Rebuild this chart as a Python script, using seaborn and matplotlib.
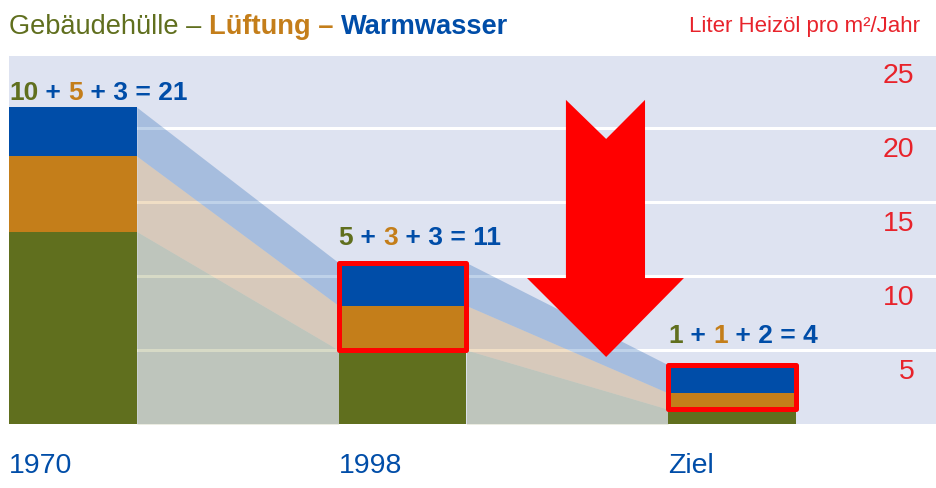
import numpy as np
import pandas as pd
import seaborn as sns
import matplotlib.pyplot as plt
from matplotlib.offsetbox import TextArea, HPacker, AnnotationBbox
from matplotlib.patches import Rectangle, Polygon
from matplotlib.transforms import ScaledTranslation

# values (liter oil per m2 and year)
categories = ["1970", "1998", "Ziel"]
huelle = [13.0, 5.0, 1.0]
lueftung = [5.1, 3.0, 1.1]
warmwasser = [3.3, 2.9, 1.9]

# numbers printed above the bars
label_huelle = ["10", "5", "1"]
label_lueftung = ["5", "3", "1"]
label_warm = ["3", "3", "2"]
label_total = ["21", "11", "4"]

y_ticks = [5, 10, 15, 20, 25]

GREEN = "#606F1E"
ORANGE = "#C47E1A"
BLUE = "#004DA8"
RED = "#FF0000"
TEXT_RED = "#E8232B"

df = pd.DataFrame({"Jahr": categories, "huelle": huelle,
                   "lueftung": lueftung, "warmwasser": warmwasser})
df["bis_lueftung"] = df["huelle"] + df["lueftung"]
df["gesamt"] = df["bis_lueftung"] + df["warmwasser"]

sns.set_style("white")
plt.rcParams["font.family"] = ["Liberation Sans", "DejaVu Sans"]

fig = plt.figure(figsize=(9.37, 4.88), dpi=100)
ax = fig.add_axes([9 / 937, 64 / 488, 928 / 937, 370 / 488])
ax.set_facecolor("#DEE3F1")

bar_w = 0.388
pos = np.arange(len(categories))

# translucent bands joining the bars
layers = [
    (np.zeros(len(df)), df["huelle"].values, GREEN),
    (df["huelle"].values, df["bis_lueftung"].values, ORANGE),
    (df["bis_lueftung"].values, df["gesamt"].values, BLUE),
]
for i in range(len(pos) - 1):
    xs = [pos[i] + bar_w / 2, pos[i + 1] - bar_w / 2]
    for lo, hi, col in layers:
        ax.fill_between(xs, lo[i:i + 2], hi[i:i + 2], color=col,
                        alpha=0.25, lw=0, zorder=1)

# stacked bars, drawn as overlapping cumulative bars
for col, c in [("gesamt", BLUE), ("bis_lueftung", ORANGE), ("huelle", GREEN)]:
    sns.barplot(data=df, x="Jahr", y=col, color=c, width=bar_w,
                saturation=1, errorbar=None, linewidth=0, zorder=2, ax=ax)

# red frames around ventilation + hot water for 1998 and target
for i in [1, 2]:
    ax.add_patch(Rectangle((pos[i] - bar_w / 2, df["huelle"][i]), bar_w,
                           df["lueftung"][i] + df["warmwasser"][i],
                           fill=False, ec=RED, lw=3.6, joinstyle="round",
                           zorder=3))

# big red arrow pointing down
arrow_x = [1.496, 1.618, 1.736, 1.736, 1.854, 1.618, 1.378, 1.496]
arrow_y = [21.9, 19.26, 21.9, 9.86, 9.86, 4.53, 9.86, 9.86]
ax.add_patch(Polygon(np.column_stack([arrow_x, arrow_y]), closed=True,
                     fc=RED, ec="none", zorder=4))

ax.set_xlim(-bar_w / 2, 2.622)
ax.set_ylim(0, 25)
ax.set_xlabel("")
ax.set_ylabel("")
for s in ax.spines.values():
    s.set_visible(False)

ax.set_yticks(y_ticks)
ax.set_yticklabels([])
ax.yaxis.grid(True, color="white", lw=2.2)
ax.xaxis.grid(False)
ax.set_axisbelow(True)
ax.tick_params(axis="both", length=0)

off = ScaledTranslation(0, -0.22, fig.dpi_scale_trans)
for v in y_ticks:
    ax.text(0.976, v, str(v), transform=ax.get_yaxis_transform() + off,
            ha="right", va="center", fontsize=20.5, color=TEXT_RED)

ax.set_xticks(pos - bar_w / 2, labels=categories)
ax.tick_params(axis="x", pad=21, labelsize=20.5, labelcolor=BLUE)
for lbl in ax.get_xticklabels():
    lbl.set_ha("left")

# coloured sums above the bars
label_lift = [2, 9, 12]
for i in range(len(pos)):
    parts = [(label_huelle[i], GREEN), (" + ", BLUE),
             (label_lueftung[i], ORANGE),
             (" + " + label_warm[i] + " = " + label_total[i], BLUE)]
    box = HPacker(children=[TextArea(t, textprops=dict(color=c, fontsize=19,
                                                       fontweight="bold"))
                            for t, c in parts],
                  align="baseline", pad=0, sep=0)
    ab = AnnotationBbox(box, (pos[i] - bar_w / 2, df["gesamt"][i]),
                        xybox=(0, label_lift[i]), boxcoords="offset points",
                        box_alignment=(0, 0), frameon=False, pad=0, zorder=5)
    ax.add_artist(ab)

# title in three colours
title_parts = [("Gebäudehülle – ", GREEN, "normal"),
               ("Lüftung – ", ORANGE, "bold"),
               ("Warmwasser", BLUE, "bold")]
tbox = HPacker(children=[TextArea(t, textprops=dict(color=c, fontsize=19.6,
                                                    fontweight=w))
                         for t, c, w in title_parts],
               align="baseline", pad=0, sep=0)
tab = AnnotationBbox(tbox, (9 / 937, 1 - 40 / 488), xycoords="figure fraction",
                     box_alignment=(0, 0), frameon=False, pad=0,
                     annotation_clip=False)
fig.add_artist(tab)

fig.text(920 / 937, 1 - 32 / 488, "Liter Heizöl pro m²/Jahr", ha="right",
         va="baseline", fontsize=16, color=TEXT_RED)

fig.savefig("out.png", dpi=100)
